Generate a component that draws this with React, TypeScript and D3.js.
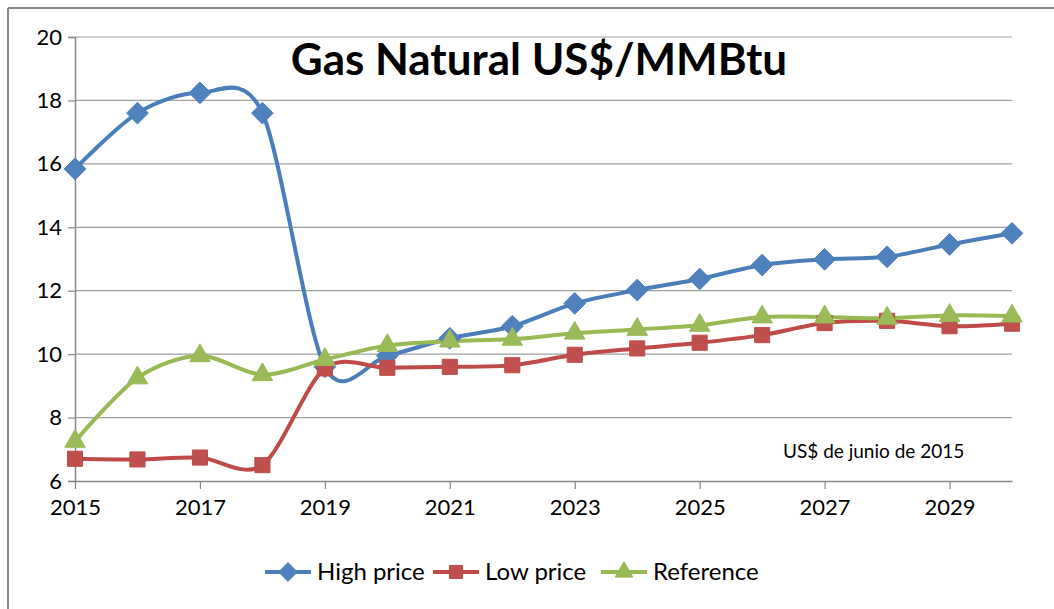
import React, { useEffect, useRef } from "react";
import * as d3 from "d3";

const years = [2015, 2016, 2017, 2018, 2019, 2020, 2021, 2022, 2023, 2024, 2025, 2026, 2027, 2028, 2029, 2030];
const highPrice = [15.84, 17.6, 18.24, 17.6, 9.6, 9.95, 10.5, 10.88, 11.6, 12.02, 12.37, 12.81, 12.99, 13.07, 13.46, 13.81];
const lowPrice = [6.7, 6.68, 6.74, 6.5, 9.55, 9.57, 9.6, 9.65, 9.98, 10.18, 10.36, 10.6, 10.98, 11.05, 10.88, 10.96];
const reference = [7.25, 9.25, 9.95, 9.35, 9.83, 10.27, 10.41, 10.47, 10.66, 10.78, 10.91, 11.17, 11.17, 11.13, 11.22, 11.2];
const yTicks = [6, 8, 10, 12, 14, 16, 18, 20];
const xTicks = [2015, 2017, 2019, 2021, 2023, 2025, 2027, 2029];

const series = [
  { name: "High price", values: highPrice, line: "#4A7EBB", fill: "#4F81BD", symbol: d3.symbolDiamond2, size: 300 },
  { name: "Low price", values: lowPrice, line: "#BE4B48", fill: "#C0504D", symbol: d3.symbolSquare2, size: 290 },
  { name: "Reference", values: reference, line: "#98B954", fill: "#9BBB59", symbol: d3.symbolTriangle2, size: 300 },
];

const font = "Lato, 'Open Sans', sans-serif";

function App() {
  const ref = useRef<SVGSVGElement>(null);

  useEffect(() => {
    const svg = d3.select(ref.current).attr("width", 1054).attr("height", 609);
    svg.selectAll("*").remove();

    const x = d3.scaleLinear().domain([2015, 2030]).range([75, 1012]);
    const y = d3.scaleLinear().domain([6, 20]).range([481, 37]);

    // chart frame (only top/left visible in the crop)
    svg.append("line").attr("x1", 8).attr("x2", 1054).attr("y1", 8).attr("y2", 8)
      .attr("stroke", "#868686").attr("stroke-width", 2);
    svg.append("line").attr("x1", 8).attr("x2", 8).attr("y1", 8).attr("y2", 609)
      .attr("stroke", "#868686").attr("stroke-width", 2);

    // gridlines
    svg.append("g").selectAll("line").data(yTicks.filter((d) => d !== 6)).enter().append("line")
      .attr("x1", 75).attr("x2", 1012)
      .attr("y1", (d) => y(d)).attr("y2", (d) => y(d))
      .attr("stroke", "#A0A0A0").attr("stroke-width", 1.2);

    // y axis
    const yAxis = svg.append("g").attr("transform", "translate(75,0)")
      .call(d3.axisLeft(y).tickValues(yTicks).tickSize(7).tickPadding(6).tickFormat(d3.format("d")));
    yAxis.select(".domain").attr("stroke", "#868686").attr("stroke-width", 1.5);
    yAxis.selectAll(".tick line").attr("stroke", "#868686").attr("stroke-width", 1.2);
    yAxis.selectAll("text").attr("font-family", font).attr("font-size", 22).attr("fill", "#000");

    // x axis
    const xAxis = svg.append("g").attr("transform", "translate(0,481)")
      .call(d3.axisBottom(x).tickValues(xTicks).tickSize(8).tickSizeOuter(0).tickPadding(10).tickFormat(d3.format("d")));
    xAxis.select(".domain").attr("stroke", "#868686").attr("stroke-width", 1.5);
    xAxis.selectAll(".tick line").attr("stroke", "#868686").attr("stroke-width", 1.2);
    xAxis.selectAll("text").attr("font-family", font).attr("font-size", 22).attr("fill", "#000");

    // Excel-style smoothed line
    const line = d3.line<number>()
      .x((_, i) => x(years[i]))
      .y((d) => y(d))
      .curve(d3.curveCardinal.tension(0.1));

    series.forEach((s) => {
      svg.append("path").datum(s.values).attr("d", line)
        .attr("fill", "none").attr("stroke", s.line).attr("stroke-width", 4)
        .attr("stroke-linejoin", "round");
    });

    series.forEach((s) => {
      const sym = d3.symbol(s.symbol, s.size);
      svg.append("g").selectAll("path").data(s.values).enter().append("path")
        .attr("d", sym)
        .attr("transform", (d, i) => `translate(${x(years[i])},${y(d)})`)
        .attr("fill", s.fill).attr("stroke", s.line).attr("stroke-width", 1);
    });

    // title
    svg.append("text").attr("x", 539).attr("y", 75).attr("text-anchor", "middle")
      .attr("font-family", font).attr("font-weight", "bold").attr("font-size", 44)
      .text("Gas Natural US$/MMBtu");

    // note
    svg.append("text").attr("x", 783).attr("y", 458)
      .attr("font-family", font).attr("font-size", 19)
      .text("US$ de junio de 2015");

    // legend
    const legendX = [265, 433, 601];
    series.forEach((s, i) => {
      const g = svg.append("g").attr("transform", `translate(${legendX[i]},572)`);
      g.append("line").attr("x1", 0).attr("x2", 46).attr("y1", 0).attr("y2", 0)
        .attr("stroke", s.line).attr("stroke-width", 4);
      const sym = d3.symbol(s.symbol, s.size * 0.75);
      g.append("path").attr("d", sym)
        .attr("transform", "translate(23,0)")
        .attr("fill", s.fill).attr("stroke", s.line);
      g.append("text").attr("x", 52).attr("y", 8)
        .attr("font-family", font).attr("font-size", 24)
        .text(s.name);
    });
  }, []);

  return (
    <div style={{ position: "absolute", left: 0, top: 0 }}>
      <svg ref={ref} style={{ display: "block", background: "#fff" }} />
    </div>
  );
}

export default App;
